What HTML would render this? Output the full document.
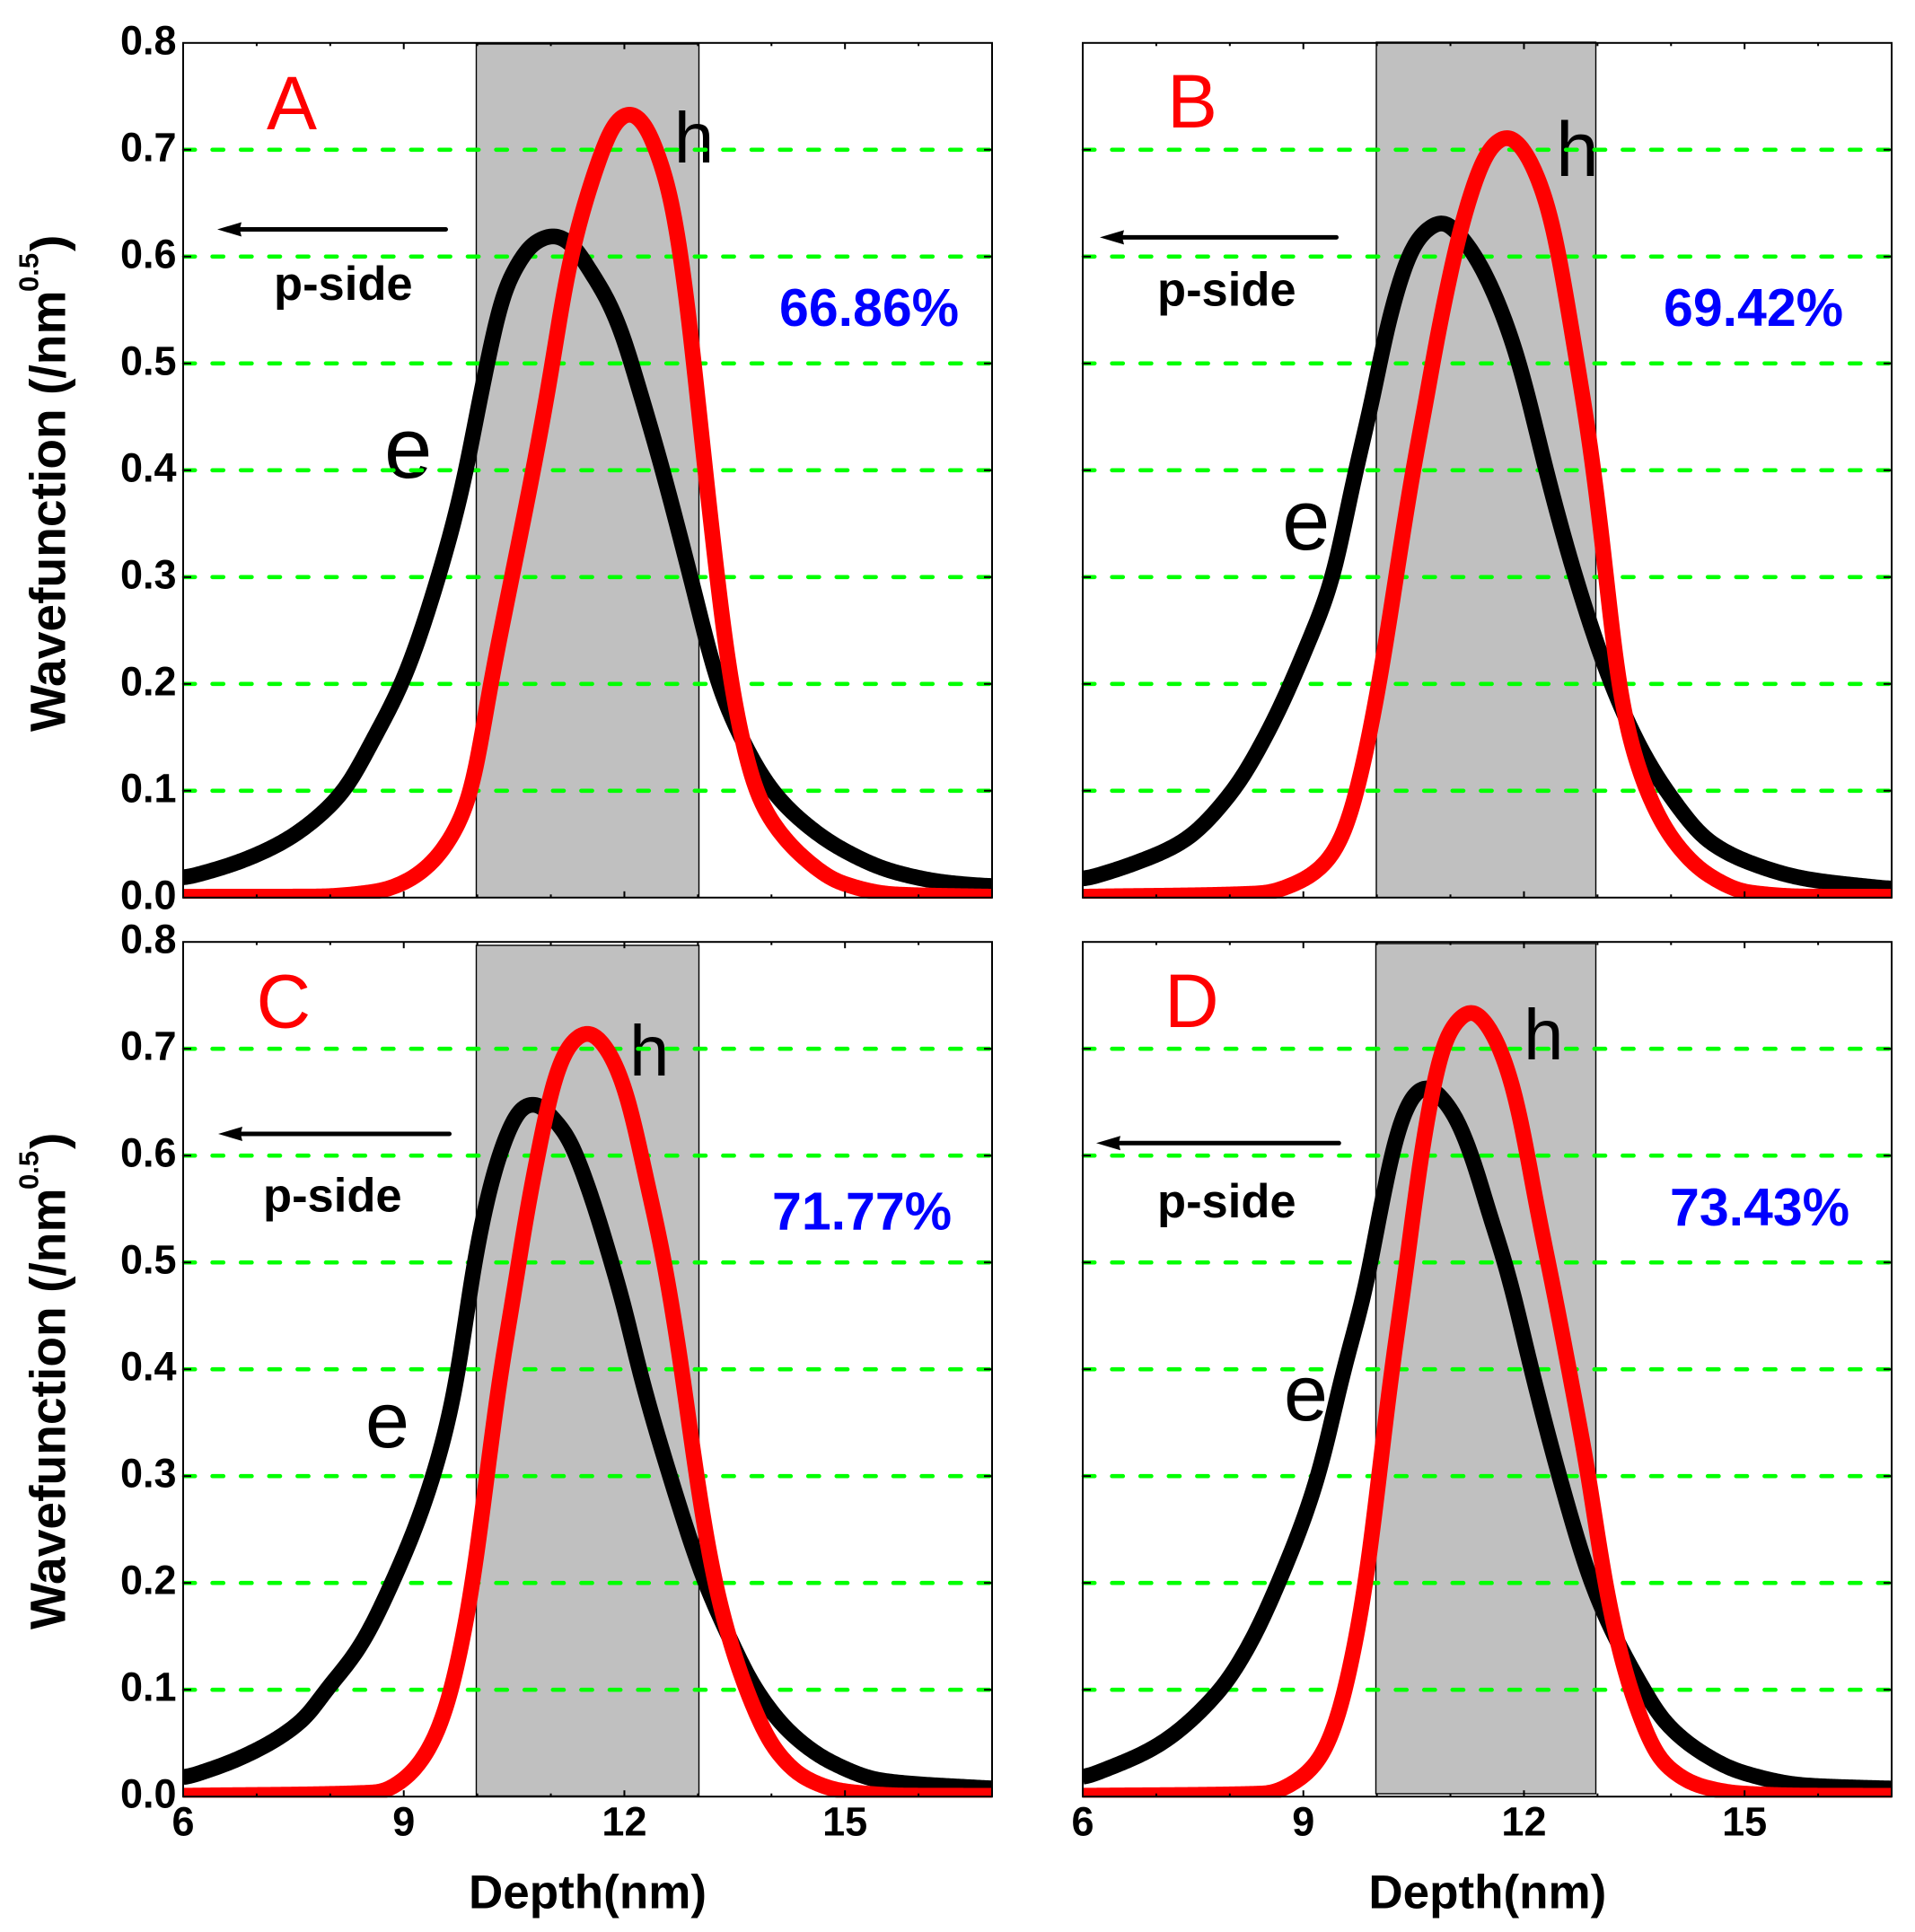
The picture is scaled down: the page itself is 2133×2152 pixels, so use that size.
<!DOCTYPE html>
<html lang="en">
<head>
<meta charset="utf-8">
<title>Wavefunction panels</title>
<style>
html,body{margin:0;padding:0;background:#fff;}
svg{display:block;font-family:"Liberation Sans",Arial,sans-serif;}
</style>
</head>
<body>
<svg id="chart" xmlns="http://www.w3.org/2000/svg" width="2133" height="2152" viewBox="0 0 2133 2152"></svg>
<script>
const xTickLabels = [6, 9, 12, 15];
const xMinorTicks = [6, 7, 8, 9, 10, 11, 12, 13, 14, 15, 16, 17];
const yTickLabels = ['0.0', '0.1', '0.2', '0.3', '0.4', '0.5', '0.6', '0.7', '0.8'];
const yTickValues = [0, 0.1, 0.2, 0.3, 0.4, 0.5, 0.6, 0.7, 0.8];
const gridValues = [0.1, 0.2, 0.3, 0.4, 0.5, 0.6, 0.7];
const xDomain = [6, 17];

const depthAe = [6, 6.7, 7.3, 7.7, 8.18, 8.6, 9.0, 9.47, 9.85, 10.0, 10.12, 10.2, 10.35, 10.55, 10.75, 11.05, 11.28, 11.53, 11.77, 11.98, 12.14, 12.52, 12.9, 13.28, 13.55, 13.96, 14.31, 14.94, 15.67, 16.39, 17];
const waveAe = [0.0177, 0.032, 0.05, 0.068, 0.1, 0.15, 0.205, 0.3, 0.4, 0.455, 0.495, 0.522, 0.565, 0.593, 0.612, 0.62, 0.612, 0.587, 0.56, 0.526, 0.49, 0.4, 0.3, 0.2, 0.155, 0.105, 0.078, 0.046, 0.024, 0.014, 0.0105];
const depthAh = [6, 7.8, 8.65, 9.0, 9.34, 9.64, 9.92, 10.18, 10.47, 10.76, 11.0, 11.2, 11.38, 11.53, 11.72, 11.85, 12.08, 12.28, 12.48, 12.63, 12.75, 12.87, 12.96, 13.1, 13.26, 13.45, 13.79, 13.97, 14.46, 14.94, 15.67, 17];
const waveAh = [0.0008, 0.001, 0.006, 0.014, 0.03, 0.056, 0.1, 0.2, 0.3, 0.4, 0.49, 0.5765, 0.63, 0.665, 0.703, 0.724, 0.735, 0.724, 0.691, 0.658, 0.61, 0.55, 0.49, 0.4, 0.3, 0.2, 0.1, 0.075, 0.036, 0.014, 0.003, 0.0008];

const depthBe = [6, 6.66, 7.37, 8.04, 8.54, 9.05, 9.4, 9.68, 9.96, 10.04, 10.12, 10.24, 10.36, 10.51, 10.69, 10.9, 11.1, 11.34, 11.54, 11.71, 11.87, 12.03, 12.3, 12.7, 13.19, 13.6, 13.98, 14.51, 15.04, 15.83, 17];
const waveBe = [0.0165, 0.031, 0.053, 0.1, 0.158, 0.236, 0.3, 0.39, 0.473, 0.501, 0.529, 0.56, 0.588, 0.612, 0.626, 0.633, 0.622, 0.6, 0.574, 0.546, 0.515, 0.476, 0.4, 0.3, 0.2, 0.138, 0.096, 0.053, 0.0335, 0.0176, 0.008];
const depthBh = [6, 8.43, 8.95, 9.31, 9.55, 9.73, 10.03, 10.26, 10.49, 10.71, 10.79, 10.89, 11.0, 11.14, 11.26, 11.38, 11.54, 11.78, 12.03, 12.2, 12.32, 12.42, 12.52, 12.62, 12.72, 12.81, 12.95, 13.12, 13.28, 13.67, 14.07, 14.51, 15.04, 15.83, 17];
const waveBh = [0.0008, 0.004, 0.015, 0.033, 0.06, 0.1, 0.2, 0.3, 0.4, 0.48, 0.515, 0.548, 0.585, 0.627, 0.655, 0.68, 0.702, 0.713, 0.697, 0.672, 0.649, 0.621, 0.585, 0.543, 0.501, 0.465, 0.4, 0.3, 0.2, 0.1, 0.05, 0.021, 0.005, 0.001, 0.0008];

const depthCe = [6, 6.77, 7.63, 7.95, 8.4, 8.84, 9.4, 9.75, 9.88, 9.94, 10.02, 10.1, 10.2, 10.31, 10.45, 10.61, 10.8, 11.04, 11.24, 11.41, 11.57, 11.71, 11.85, 11.97, 12.2, 12.62, 13.1, 13.36, 13.79, 14.3, 14.82, 15.5, 17];
const waveCe = [0.0167, 0.036, 0.072, 0.1, 0.14, 0.2, 0.3, 0.4, 0.466, 0.494, 0.522, 0.55, 0.578, 0.603, 0.628, 0.646, 0.649, 0.634, 0.617, 0.589, 0.558, 0.527, 0.494, 0.466, 0.4, 0.3, 0.2, 0.159, 0.1, 0.057, 0.032, 0.015, 0.0075];
const depthCh = [6, 8.65, 9.0, 9.34, 9.61, 9.81, 9.94, 10.13, 10.32, 10.49, 10.55, 10.63, 10.73, 10.84, 10.94, 11.04, 11.14, 11.28, 11.51, 11.73, 11.89, 12.04, 12.14, 12.24, 12.34, 12.46, 12.56, 12.65, 12.76, 12.98, 13.23, 13.66, 14.05, 14.47, 14.99, 15.84, 17];
const waveCh = [0.0008, 0.004, 0.016, 0.044, 0.09, 0.15, 0.2, 0.3, 0.4, 0.466, 0.494, 0.53, 0.569, 0.606, 0.642, 0.67, 0.69, 0.7064, 0.716, 0.7036, 0.684, 0.656, 0.628, 0.597, 0.564, 0.53, 0.494, 0.458, 0.41, 0.3, 0.2, 0.1, 0.044, 0.017, 0.005, 0.001, 0.0008];

const depthDe = [6, 7.01, 7.87, 8.25, 8.66, 9.2, 9.55, 9.87, 9.93, 10.0, 10.1, 10.18, 10.28, 10.38, 10.5, 10.69, 10.91, 11.09, 11.24, 11.38, 11.52, 11.67, 11.81, 12.1, 12.48, 12.92, 13.2, 13.63, 13.89, 14.42, 14.95, 15.83, 17];
const waveDe = [0.0167, 0.0475, 0.1, 0.14, 0.2, 0.3, 0.4, 0.483, 0.505, 0.533, 0.567, 0.595, 0.623, 0.642, 0.658, 0.665, 0.652, 0.634, 0.609, 0.581, 0.547, 0.516, 0.483, 0.4, 0.3, 0.2, 0.155, 0.1, 0.072, 0.041, 0.023, 0.0105, 0.0075];
const depthDh = [6, 8.51, 8.87, 9.22, 9.45, 9.57, 9.85, 10.03, 10.2, 10.38, 10.42, 10.48, 10.57, 10.65, 10.75, 10.85, 10.95, 11.07, 11.29, 11.52, 11.67, 11.79, 11.89, 11.99, 12.07, 12.17, 12.28, 12.38, 12.61, 12.88, 13.1, 13.45, 13.89, 14.42, 14.95, 15.83, 17];
const waveDh = [0.0008, 0.003, 0.013, 0.035, 0.07, 0.1, 0.2, 0.3, 0.4, 0.483, 0.505, 0.54, 0.586, 0.623, 0.659, 0.693, 0.712, 0.725, 0.736, 0.721, 0.701, 0.679, 0.654, 0.623, 0.592, 0.553, 0.516, 0.483, 0.4, 0.3, 0.2, 0.1, 0.032, 0.0095, 0.003, 0.001, 0.0008];

const svg = document.getElementById('chart');
const NS = 'http://www.w3.org/2000/svg';

function make(tag, attrs, parent, text) {
  const el = document.createElementNS(NS, tag);
  for (const k in attrs) el.setAttribute(k, attrs[k]);
  if (text !== undefined) el.textContent = text;
  parent.appendChild(el);
  return el;
}

// Shape-preserving cubic through the read points, evaluated on a fine grid,
// then lightly low-passed so read-off jitter does not show as kinks.
function smoothCurve(xs, ys) {
  const n = xs.length, h = [], s = [], m = new Array(n);
  for (let i = 0; i < n - 1; i++) { h[i] = xs[i + 1] - xs[i]; s[i] = (ys[i + 1] - ys[i]) / h[i]; }
  m[0] = s[0]; m[n - 1] = s[n - 2];
  for (let i = 1; i < n - 1; i++) {
    if (s[i - 1] * s[i] <= 0) { m[i] = 0; continue; }
    const w1 = 2 * h[i] + h[i - 1], w2 = h[i] + 2 * h[i - 1];
    m[i] = (w1 + w2) / (w1 / s[i - 1] + w2 / s[i]);
  }
  const step = 0.02, gx = [], gy = [];
  let seg = 0;
  for (let x = xs[0]; x <= xs[n - 1] + 1e-9; x += step) {
    while (seg < n - 2 && x > xs[seg + 1]) seg++;
    const t = (x - xs[seg]) / h[seg], t2 = t * t, t3 = t2 * t;
    gx.push(x);
    gy.push((2 * t3 - 3 * t2 + 1) * ys[seg] + (t3 - 2 * t2 + t) * h[seg] * m[seg] + (-2 * t3 + 3 * t2) * ys[seg + 1] + (t3 - t2) * h[seg] * m[seg + 1]);
  }
  const sigma = 0.09, reach = Math.ceil(3 * sigma / step), out = [];
  for (let i = 0; i < gx.length; i++) {
    let a = 0, b = 0;
    for (let j = Math.max(0, i - reach); j <= Math.min(gx.length - 1, i + reach); j++) {
      const d = (gx[j] - gx[i]) / sigma, w = Math.exp(-0.5 * d * d);
      a += w * gy[j]; b += w;
    }
    out.push([gx[i], a / b]);
  }
  return out;
}

function curvePath(xs, ys, xScale, yScale) {
  return smoothCurve(xs, ys).map((p, i) => (i ? 'L' : 'M') + xScale(p[0]).toFixed(2) + ' ' + yScale(p[1]).toFixed(2)).join('');
}

function drawPanel(p) {
  const xScale = v => p.left + (v - xDomain[0]) * (p.right - p.left) / (xDomain[1] - xDomain[0]);
  const yScale = v => p.zero - v * 1190;
  const g = make('g', {}, svg);
  
  

  const well = make('rect', { x: p.wellL, y: p.wellT, width: p.wellR - p.wellL, height: p.wellB - p.wellT, fill: '#c0c0c0', stroke: '#000', 'stroke-width': 1.4 }, g);
  
  

  const label = make('text', { x: p.letter[0], y: p.letter[1], 'font-size': 84, fill: '#ff0000' }, g, p.id);
  
  

  const hLabel = make('text', { x: p.hPos[0], y: p.hPos[1], 'font-size': p.hPos[2], fill: '#000' }, g, 'h');
  
  

  const eLabel = make('text', { x: p.ePos[0], y: p.ePos[1], 'font-size': p.ePos[2], fill: '#000' }, g, 'e');
  
  

  gridValues.forEach(v => {
    const line = make('line', { x1: p.left + 1, x2: p.right + 2, y1: yScale(v), y2: yScale(v), stroke: '#00ff00', 'stroke-width': 4.6, 'stroke-linecap': 'round', 'stroke-dasharray': '12.2 19.4' }, g);
    
    
  });

  const clipId = 'clip-' + p.id;
  const defs = make('defs', {}, g);
  const clip = make('clipPath', { id: clipId }, defs);
  make('rect', { x: p.left - 1, y: p.zero - 1050, width: p.right - p.left + 2.5, height: 1051.2 }, clip);

  const eCurve = make('path', { d: curvePath(p.eDepth, p.eWave, xScale, yScale), fill: 'none', stroke: '#000', 'stroke-width': 17.5, 'stroke-linejoin': 'round', 'clip-path': 'url(#' + clipId + ')' }, g);
  
  

  const hCurve = make('path', { d: curvePath(p.hDepth, p.hWave, xScale, yScale), fill: 'none', stroke: '#ff0000', 'stroke-width': 17.5, 'stroke-linejoin': 'round', 'clip-path': 'url(#' + clipId + ')' }, g);
  
  

  const frame = make('rect', { x: p.left, y: yScale(0.8), width: p.right - p.left, height: yScale(0) - yScale(0.8), fill: 'none', stroke: '#000', 'stroke-width': 2 }, g);
  
  

  yTickValues.forEach((v, i) => {
    if (v > 0 && v < 0.8) {
      const t1 = make('line', { x1: p.left, x2: p.left + 9, y1: yScale(v), y2: yScale(v), stroke: '#000', 'stroke-width': 2 }, g);
      
      
      const t2 = make('line', { x1: p.right, x2: p.right - 9, y1: yScale(v), y2: yScale(v), stroke: '#000', 'stroke-width': 2 }, g);
      
      
    }
    if (p.showY) {
      const t = make('text', { x: p.left - 7.5, y: yScale(v) + 12.5, 'font-size': 45, 'font-weight': 'bold', 'text-anchor': 'end', fill: '#000' }, g, yTickLabels[i]);
      
      
    }
  });

  xMinorTicks.forEach(v => {
    const len = v % 3 === 0 ? 7 : 3.5;
    const b = make('line', { x1: xScale(v), x2: xScale(v), y1: yScale(0), y2: yScale(0) - len, stroke: '#000', 'stroke-width': 2 }, g);
    
    
    const t = make('line', { x1: xScale(v), x2: xScale(v), y1: yScale(0.8), y2: yScale(0.8) + len, stroke: '#000', 'stroke-width': 2 }, g);
    
    
  });

  if (p.showX) {
    xTickLabels.forEach(v => {
      const t = make('text', { x: xScale(v), y: p.zero + 43.5, 'font-size': 45, 'font-weight': 'bold', 'text-anchor': 'middle', fill: '#000' }, g, String(v));
      
      
    });
    const title = make('text', { x: p.titleX, y: p.zero + 124.5, 'font-size': 53, 'font-weight': 'bold', 'text-anchor': 'middle', fill: '#000' }, g, 'Depth(nm)');
    
    
  }

  const shaft = make('line', { x1: p.arrow[0] - 1.5, x2: p.arrow[1] + 22, y1: p.arrow[2], y2: p.arrow[2], stroke: '#000', 'stroke-width': 5, 'stroke-linecap': 'round' }, g);
  
  
  const tip = p.arrow[1], ay = p.arrow[2];
  const head = make('polygon', { points: tip + ',' + ay + ' ' + (tip + 27) + ',' + (ay - 8) + ' ' + (tip + 25) + ',' + ay + ' ' + (tip + 27) + ',' + (ay + 8), fill: '#000' }, g);
  
  

  const side = make('text', { x: p.side[0] + 1, y: p.side[1], 'font-size': 52.5, 'font-weight': 'bold', fill: '#000' }, g, 'p-side');
  
  

  const pct = make('text', { x: p.pct[0], y: p.pct[1], 'font-size': 59, 'font-weight': 'bold', fill: '#0000ff' }, g, p.pct[2]);
  
  
}

function drawYTitle(offset) {
  const g = make('g', {}, svg);
  
  
  const base = { 'font-weight': 'bold', fill: '#000' };
  make('text', Object.assign({ transform: 'translate(72.7 ' + (815 + offset) + ') rotate(-90)', 'font-size': 55.2 }, base), g, 'Wavefunction (/nm');
  make('text', Object.assign({ transform: 'translate(42.7 ' + (325 + offset) + ') rotate(-90)', 'font-size': 31 }, base), g, '0.5');
  make('text', Object.assign({ transform: 'translate(72.7 ' + (280 + offset) + ') rotate(-90)', 'font-size': 55 }, base), g, ')');
}

drawPanel({ id: 'A', left: 204, right: 1105, zero: 999.8, showY: true, showX: false, titleX: 0,
  wellL: 530.5, wellR: 778.5, wellT: 49, wellB: 999.8,
  letter: [297, 144], hPos: [750.7, 181, 80], ePos: [428, 532, 96],
  arrow: [498, 242, 255.5], side: [304, 334], pct: [868, 363, '66.86%'],
  eDepth: depthAe, eWave: waveAe, hDepth: depthAh, hWave: waveAh });
drawPanel({ id: 'B', left: 1206, right: 2107, zero: 999.8, showY: false, showX: false, titleX: 0,
  wellL: 1533, wellR: 1777.5, wellT: 47, wellB: 999.8,
  letter: [1300, 142], hPos: [1733, 196, 86], ePos: [1428, 612, 96],
  arrow: [1490, 1225, 264.4], side: [1288, 340.5], pct: [1853, 363, '69.42%'],
  eDepth: depthBe, eWave: waveBe, hDepth: depthBh, hWave: waveBh });
drawPanel({ id: 'C', left: 204, right: 1105, zero: 2001.2, showY: true, showX: true, titleX: 654.5,
  wellL: 530.5, wellR: 778.5, wellT: 1053, wellB: 2000.5,
  letter: [285.5, 1144.5], hPos: [701, 1198, 80], ePos: [407, 1612, 88],
  arrow: [502, 243, 1263], side: [292, 1349.5], pct: [860, 1369.6, '71.77%'],
  eDepth: depthCe, eWave: waveCe, hDepth: depthCh, hWave: waveCh });
drawPanel({ id: 'D', left: 1206, right: 2107, zero: 2001.2, showY: false, showX: true, titleX: 1656.8,
  wellL: 1532.5, wellR: 1777.5, wellT: 1051, wellB: 1998,
  letter: [1297, 1144], hPos: [1697, 1180, 80], ePos: [1430, 1582, 88],
  arrow: [1492.8, 1221, 1273.3], side: [1288, 1356], pct: [1860, 1365, '73.43%'],
  eDepth: depthDe, eWave: waveDe, hDepth: depthDh, hWave: waveDh });
drawYTitle(0);
drawYTitle(1000);
</script>
</body>
</html>
